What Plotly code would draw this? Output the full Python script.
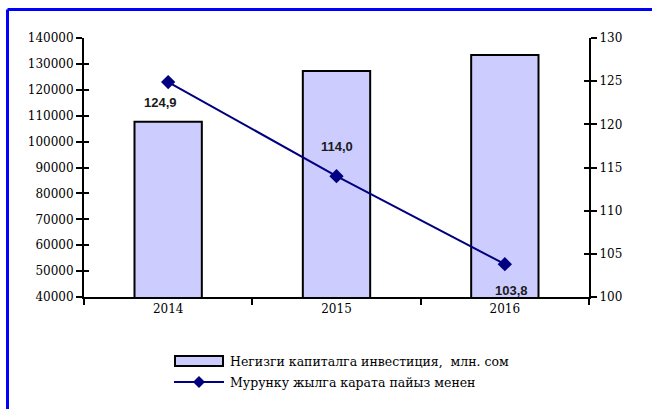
import plotly.graph_objects as go

years = ["2014", "2015", "2016"]
investment = [107700, 127300, 133400]
growth = [124.9, 114.0, 103.8]
growth_labels = ["124,9", "114,0", "103,8"]
bar_name = "Негизги капиталга инвестиция,  млн. сом"
line_name = "Мурунку жылга карата пайыз менен"

W, H = 652, 409
L, R, T, B = 84, 63, 38, 112
PW, PH = W - L - R, H - T - B


def px(x):
    return (x - L) / PW


def py(y):
    return (H - B - y) / PH


serif = "DejaVu Serif"
navy = "#000080"

fig = go.Figure()
fig.add_trace(go.Bar(x=years, y=investment, name=bar_name,
                     marker=dict(color="#CCCCFF", line=dict(color="black", width=2)),
                     showlegend=False))
fig.add_trace(go.Scatter(x=years, y=growth, name=line_name, yaxis="y2",
                         mode="lines+markers",
                         line=dict(color=navy, width=2),
                         marker=dict(symbol="diamond", size=11, color=navy),
                         showlegend=False))

shifts = [(-8, -20), (0, 30), (7, -26)]
for i, (v, lab, (dx, dy)) in enumerate(zip(growth, growth_labels, shifts)):
    fig.add_annotation(x=i, y=v, xref="x", yref="y2", text=lab, showarrow=False,
                       xshift=dx, yshift=dy,
                       font=dict(family="Liberation Sans", size=13,
                                 color="#1a1a1a", weight="bold"))

shapes = []
shapes.append(dict(type="line", xref="paper", yref="paper", x0=px(7.5), x1=px(W + 20),
                   y0=py(9.5), y1=py(9.5), line=dict(color="#0000FF", width=3)))
shapes.append(dict(type="line", xref="paper", yref="paper", x0=px(7.5), x1=px(7.5),
                   y0=py(9.5), y1=py(H + 20), line=dict(color="#0000FF", width=3)))
shapes.append(dict(type="rect", xref="paper", yref="paper", x0=px(175), x1=px(223),
                   y0=py(356), y1=py(366), fillcolor="#CCCCFF",
                   line=dict(color="black", width=2)))
shapes.append(dict(type="line", xref="paper", yref="paper", x0=px(174), x1=px(224),
                   y0=py(382), y1=py(382), line=dict(color=navy, width=2)))
cx, cy, r = px(199), py(382), 6
shapes.append(dict(type="path", xref="paper", yref="paper",
                   path=f"M {cx - r / PW} {cy} L {cx} {cy + r / PH} L {cx + r / PW} {cy} L {cx} {cy - r / PH} Z",
                   fillcolor=navy, line=dict(color=navy, width=0)))
fig.add_annotation(x=px(228), y=py(361), xref="paper", yref="paper", text=bar_name,
                   showarrow=False, xanchor="left", yanchor="middle",
                   font=dict(family=serif, size=12.5, color="black"))
fig.add_annotation(x=px(228), y=py(382), xref="paper", yref="paper", text=line_name,
                   showarrow=False, xanchor="left", yanchor="middle",
                   font=dict(family=serif, size=12.5, color="black"))

tickfont = dict(family=serif, size=12, color="black")
fig.update_layout(
    width=W, height=H,
    margin=dict(l=L, r=R, t=T, b=B),
    paper_bgcolor="white", plot_bgcolor="white",
    bargap=0.6,
    shapes=shapes,
    xaxis=dict(type="category", range=[-0.5, 2.5], autorange=False,
               showline=True, linecolor="black", linewidth=2,
               ticks="outside", tickson="boundaries", ticklen=6, tickwidth=2,
               tickcolor="black", tickfont=tickfont,
               showgrid=False, zeroline=False),
    yaxis=dict(range=[40000, 140000], dtick=10000, showline=True, linecolor="black",
               linewidth=2, ticks="outside", ticklen=6, tickwidth=2, tickcolor="black",
               tickfont=tickfont, showgrid=False, zeroline=False, tickformat="d"),
    yaxis2=dict(range=[100, 130], dtick=5, overlaying="y", side="right", showline=True,
                linecolor="black", linewidth=2, ticks="outside", ticklen=6, tickwidth=2,
                tickcolor="black", tickfont=tickfont,
                showgrid=False, zeroline=False),
    yaxis3=dict(range=[40000, 140000], dtick=10000, overlaying="y", side="left",
                ticks="inside", ticklen=5, tickwidth=2, tickcolor="black",
                showticklabels=False, showline=False, showgrid=False, zeroline=False),
    yaxis4=dict(range=[100, 130], dtick=5, overlaying="y", side="right",
                ticks="inside", ticklen=5, tickwidth=2, tickcolor="black",
                showticklabels=False, showline=False, showgrid=False, zeroline=False),
    showlegend=False,
)
fig.add_trace(go.Scatter(x=years, y=investment, yaxis="y3", mode="none",
                         showlegend=False, hoverinfo="skip"))
fig.add_trace(go.Scatter(x=years, y=growth, yaxis="y4", mode="none",
                         showlegend=False, hoverinfo="skip"))

fig.write_html("out.html", config={"displayModeBar": False},
               post_script="document.body.style.margin='0';")
